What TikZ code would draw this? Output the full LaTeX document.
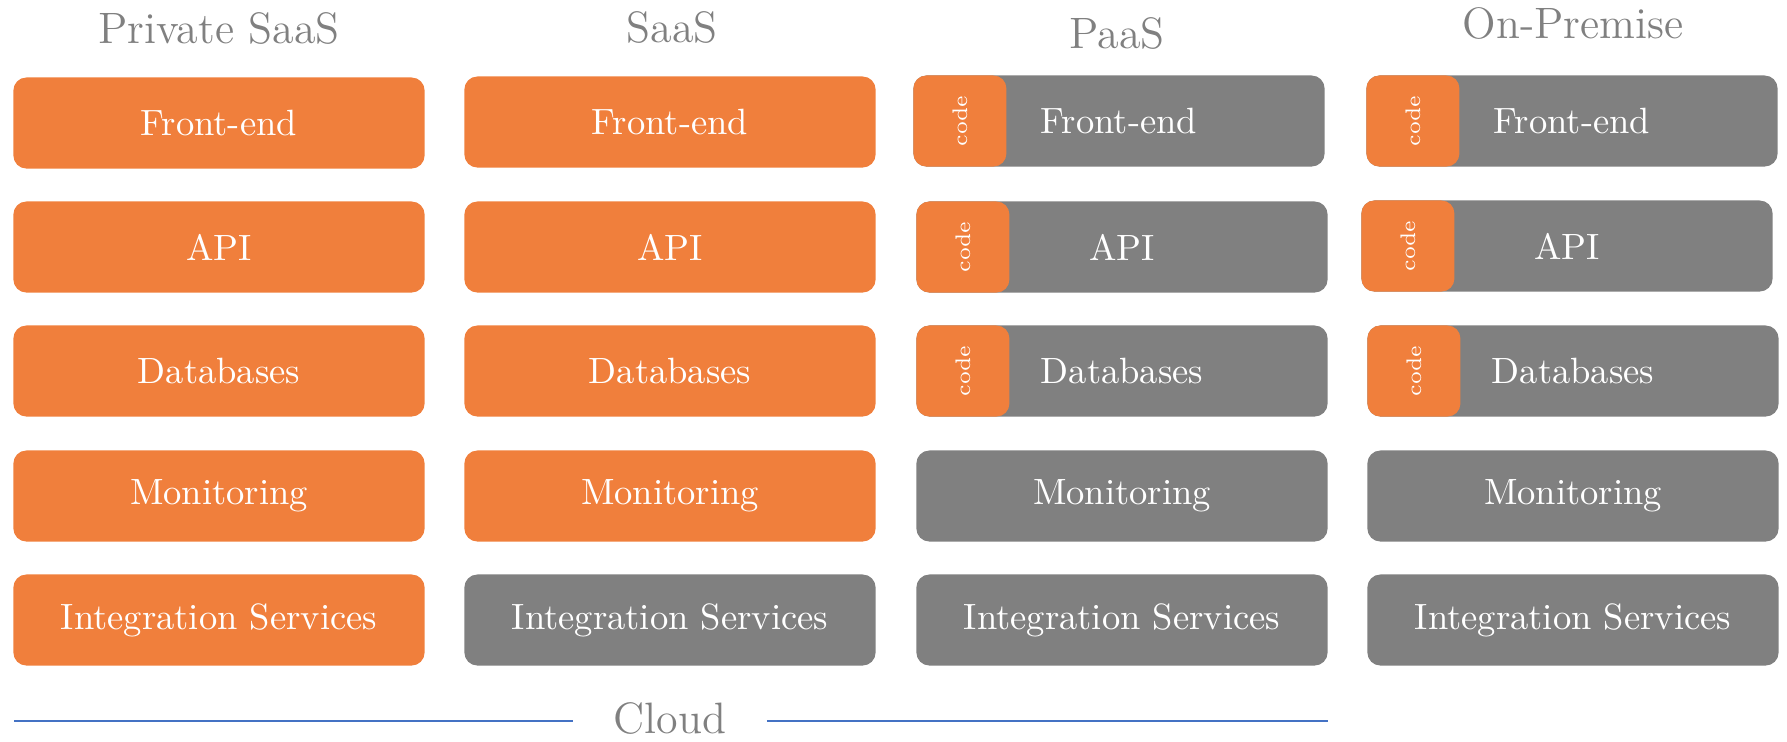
\documentclass[tikz,border=0pt]{standalone}
\usepackage{xcolor}
\usepackage{tikz}
\usetikzlibrary{positioning}

\definecolor{boxorange}{RGB}{240,127,60}
\definecolor{boxgrey}{RGB}{128,128,128}
\definecolor{titlegrey}{RGB}{128,128,128}
\definecolor{cloudblue}{RGB}{68,114,196}

\begin{document}
\begin{tikzpicture}[x=0.01cm, y=-0.01cm]
	\tikzstyle{layer} = [rectangle, rounded corners = 0.13cm, minimum width = 4.11cm, minimum height = 0.91cm, inner sep = 0pt, text = white, font = \fontsize{10.4}{12}\selectfont]
	\tikzstyle{ours} = [layer, fill = boxorange]
	\tikzstyle{yours} = [layer, fill = boxgrey]
	\tikzstyle{codebox} = [rectangle, rounded corners = 0.13cm, fill = boxorange, minimum width = 0.93cm, minimum height = 0.91cm, inner sep = 0pt, anchor = west, text = white, font = \fontsize{6}{7}\selectfont]
	\tikzstyle{title} = [anchor = base, text = titlegrey, font = \fontsize{12.5}{14}\selectfont]
	\useasboundingbox (0, 0) rectangle (1787, 741);

% column titles
\node[title] (t1) at (219, 43) {Private SaaS};
\node[title] (t2) at (672, 42) {SaaS};
\node[title] (t3) at (1117, 48) {PaaS};
\node[title] (t4) at (1573, 38) {On-Premise};

% Private SaaS
\node[ours] (fe1) at (219, 123) {Front-end};
\node[ours] (api1) at (219, 247) {API};
\node[ours] (db1) at (219, 371) {Databases};
\node[ours] (mon1) at (219, 496) {Monitoring};
\node[ours] (int1) at (219, 620) {Integration Services};

% SaaS
\node[ours] (fe2) at (670, 122) {Front-end};
\node[ours] (api2) at (670, 247) {API};
\node[ours] (db2) at (670, 371) {Databases};
\node[ours] (mon2) at (670, 496) {Monitoring};
\node[yours] (int2) at (670, 620) {Integration Services};

% PaaS
\node[yours] (fe3) at (1119, 121) {Front-end};
\node[yours] (api3) at (1122, 247) {API};
\node[yours] (db3) at (1122, 371) {Databases};
\node[yours] (mon3) at (1122, 496) {Monitoring};
\node[yours] (int3) at (1122, 620) {Integration Services};
\node[codebox] (c3a) at (fe3.west) {\rotatebox{90}{code}};
\node[codebox] (c3b) at (api3.west) {\rotatebox{90}{code}};
\node[codebox] (c3c) at (db3.west) {\rotatebox{90}{code}};

% On-Premise
\node[yours] (fe4) at (1572, 121) {Front-end};
\node[yours] (api4) at (1567, 246) {API};
\node[yours] (db4) at (1573, 371) {Databases};
\node[yours] (mon4) at (1573, 496) {Monitoring};
\node[yours] (int4) at (1573, 620) {Integration Services};
\node[codebox] (c4a) at (fe4.west) {\rotatebox{90}{code}};
\node[codebox] (c4b) at (api4.west) {\rotatebox{90}{code}};
\node[codebox] (c4c) at (db4.west) {\rotatebox{90}{code}};

% cloud line
\node[title, inner xsep = 0.4cm, inner ysep = 0pt] (cloud) at (670, 733) {Cloud};
\coordinate (cl) at (14, 721);
\coordinate (cr) at (1328, 721);
	\path[draw, cloudblue, line width = 0.6pt] (cl) -- (cl -| cloud.west);
	\path[draw, cloudblue, line width = 0.6pt] (cr -| cloud.east) -- (cr);
	\end{tikzpicture}
\end{document}
